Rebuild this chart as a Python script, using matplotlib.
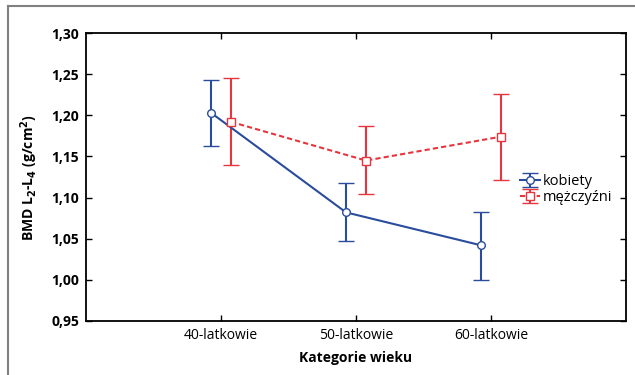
import matplotlib.pyplot as plt
import numpy as np
from matplotlib.lines import Line2D
from matplotlib.ticker import FuncFormatter

categories = ["40-latkowie", "50-latkowie", "60-latkowie"]

kobiety_mean = [1.203, 1.082, 1.042]
kobiety_low = [1.163, 1.047, 1.000]
kobiety_high = [1.243, 1.118, 1.083]

mezczyzni_mean = [1.192, 1.145, 1.174]
mezczyzni_low = [1.140, 1.104, 1.121]
mezczyzni_high = [1.245, 1.187, 1.226]

blue = "#2a4c9c"
red = "#e8343c"

plt.rcParams["font.family"] = ["Open Sans", "DejaVu Sans"]

fig = plt.figure(figsize=(6.35, 3.75), dpi=100)
ax = fig.add_axes([86 / 635, 1 - 321 / 375, 540 / 635, 288 / 375])

x = np.arange(len(categories))
off = 0.074

k_mean = np.array(kobiety_mean)
k_err = [k_mean - np.array(kobiety_low), np.array(kobiety_high) - k_mean]
m_mean = np.array(mezczyzni_mean)
m_err = [m_mean - np.array(mezczyzni_low), np.array(mezczyzni_high) - m_mean]

ax.errorbar(x - off, k_mean, yerr=k_err, color=blue, lw=1.5, capsize=5.5,
            capthick=1.5, marker="o", ms=5.5, mfc="white", mec=blue,
            mew=1.0, label="kobiety")
ax.errorbar(x + off, m_mean, yerr=m_err, color=red, lw=1.5, capsize=5.5,
            capthick=1.5, marker="s", ms=5.5, mfc="white", mec=red,
            mew=1.0, ls=(0, (2.5, 1.5)), label="mężczyźni")

ax.set_xlim(-1, 3)
ax.set_ylim(0.95, 1.30)
ax.set_xticks(x)
ax.set_xticklabels(categories, fontsize=10)
ax.set_yticks(np.arange(0.95, 1.301, 0.05))
ax.yaxis.set_major_formatter(FuncFormatter(lambda v, p: f"{v:.2f}".replace(".", ",")))
for lab in ax.get_yticklabels():
    lab.set_fontweight("bold")
    lab.set_fontsize(10)

ax.tick_params(direction="in", length=4, width=1, top=True, right=True, pad=5)
for s in ax.spines.values():
    s.set_linewidth(1.3)

ax.set_xlabel("Kategorie wieku", fontsize=10, fontweight="bold", labelpad=6)
ax.set_ylabel("BMD L$_\\mathbf{2}$-L$_\\mathbf{4}$ (g/cm$^\\mathbf{2}$)",
              fontsize=10, fontweight="bold", labelpad=8)

ax.legend(loc="upper left", bbox_to_anchor=(0.79, 0.535), frameon=False,
          fontsize=10.5, handlelength=1.4, handletextpad=0.2,
          labelspacing=0.05, borderpad=0)

# partial outer frame
fig.add_artist(Line2D([8 / 635, 1.0], [1 - 6 / 375, 1 - 6 / 375],
                      transform=fig.transFigure, color="#808080", lw=1.5))
fig.add_artist(Line2D([8 / 635, 8 / 635], [0, 1 - 6 / 375],
                      transform=fig.transFigure, color="#808080", lw=1.5))

fig.savefig("out.png", dpi=100)
